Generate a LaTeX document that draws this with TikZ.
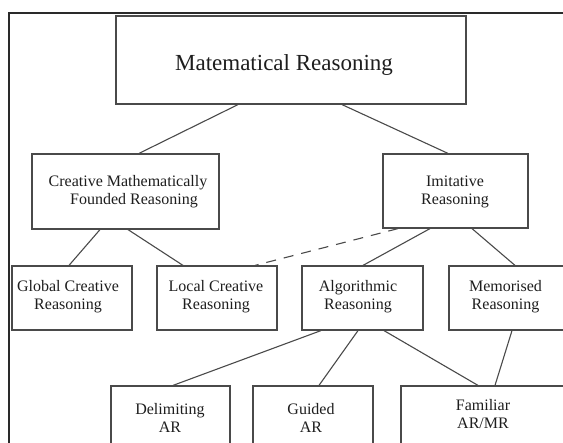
\documentclass[tikz,border=0pt]{standalone}
\usepackage{fontspec}
\setmainfont{Liberation Serif}
\definecolor{linegray}{HTML}{4A4A4A}
\definecolor{framec}{HTML}{2A2A2A}
\definecolor{inkc}{HTML}{1E1E1E}
\tikzset{
  box/.style={draw=linegray, line width=1.2pt, rectangle, inner sep=0pt},
  % two-line labels are anchored at the baseline of their last line
  lbl/.style={text=inkc, font=\fontsize{16}{18}\selectfont, align=center, anchor=base, inner sep=0pt},
  link/.style={draw=linegray, line width=1.1pt},
  dashlink/.style={link, dash pattern=on 10pt off 8pt},
}
\begin{document}
\begin{tikzpicture}[x=1pt,y=-1pt]
  \fill[white] (0,0) rectangle (563,443);
  \useasboundingbox (0,0) rectangle (563,443);
  % outer frame: only its top and left sides fall on the page
  \draw[framec, line width=1.2pt] (600,13) -- (9,13) -- (9,480);

  % boxes
  \node[box, minimum width=350pt, minimum height=88pt] (mr)   at (291,60) {};
  \node[box, minimum width=187pt, minimum height=75pt] (cmf)  at (125.5,191.5) {};
  \node[box, minimum width=145pt, minimum height=74pt] (imit) at (455.5,191) {};
  \node[box, minimum width=120pt, minimum height=64pt] (gcr)  at (72,298) {};
  \node[box, minimum width=120pt, minimum height=64pt] (lcr)  at (217,298) {};
  \node[box, minimum width=121pt, minimum height=64pt] (alg)  at (362.5,298) {};
  \node[box, minimum width=120pt, minimum height=64pt] (mem)  at (509,298) {};
  \node[box, minimum width=119pt, minimum height=80pt] (del)  at (170.5,426) {};
  \node[box, minimum width=120pt, minimum height=80pt] (gui)  at (313,426) {};
  \node[box, minimum width=165pt, minimum height=80pt] (fam)  at (483.5,426) {};

  % labels
  \node[lbl, font=\fontsize{23}{26}\selectfont] (mrT) at (284,71) {Matematical Reasoning};
  \node[lbl] (cmfT)  at (128,205) {Creative Mathematically\\\hspace*{12pt}Founded Reasoning};
  \node[lbl] (imitT) at (455,205) {Imitative\\Reasoning};
  \node[lbl] (gcrT)  at (68,310)  {Global Creative\\Reasoning};
  \node[lbl] (lcrT)  at (216,310) {Local Creative\\Reasoning};
  \node[lbl] (algT)  at (358,310) {Algorithmic\\Reasoning};
  \node[lbl] (memT)  at (505.5,310) {Memorised\\Reasoning};
  \node[lbl] (delT)  at (170,433) {Delimiting\\AR};
  \node[lbl] (guiT)  at (311,433) {Guided\\AR};
  \node[lbl] (famT)  at (483,429) {Familiar\\AR/MR};

  % connectors
  \draw[link] ([xshift=-53pt]mr.south)   -- ([xshift=13.5pt]cmf.north);
  \draw[link] ([xshift=51pt]mr.south)    -- ([xshift=-7.5pt]imit.north);
  \draw[link] ([xshift=-25.5pt]cmf.south) -- ([xshift=-3pt]gcr.north);
  \draw[link] ([xshift=2.5pt]cmf.south)  -- ([xshift=-34pt]lcr.north);
  \draw[dashlink] ([xshift=-57.5pt]imit.south) -- ([xshift=38pt]lcr.north);
  \draw[link] ([xshift=-25.5pt]imit.south) -- ([xshift=0.5pt]alg.north);
  \draw[link] ([xshift=16.5pt]imit.south) -- ([xshift=6pt]mem.north);
  \draw[link] ([xshift=-41.5pt]alg.south) -- ([xshift=2.5pt]del.north);
  \draw[link] ([xshift=-4.5pt]alg.south)  -- ([xshift=6pt]gui.north);
  \draw[link] ([xshift=21.5pt]alg.south)  -- ([xshift=-5.5pt]fam.north);
  \draw[link] ([xshift=3pt]mem.south)     -- ([xshift=11.5pt]fam.north);
\end{tikzpicture}
\end{document}
